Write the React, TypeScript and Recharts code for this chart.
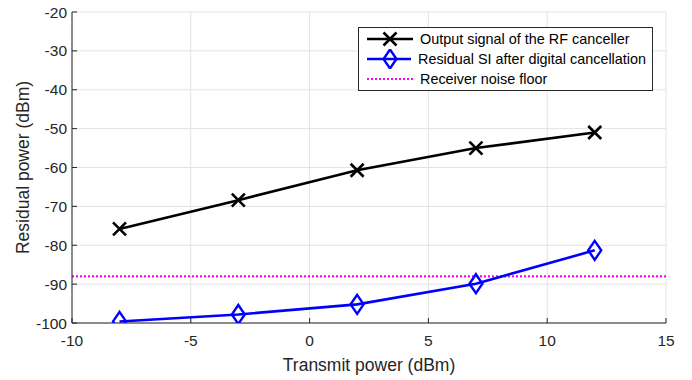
import { LineChart, Line, XAxis, YAxis, CartesianGrid, ReferenceLine } from 'recharts';

const txPower = [-8, -3, 2, 7, 12];
const rfOutput = [-75.8, -68.4, -60.7, -55.0, -51.0];
const digitalResidual = [-99.6, -97.8, -95.2, -89.9, -81.3];
const noiseFloor = -88;
const xTicks = [-10, -5, 0, 5, 10, 15];
const yTicks = [-100, -90, -80, -70, -60, -50, -40, -30, -20];

const data = txPower.map((x, i) => ({ x, rf: rfOutput[i], dig: digitalResidual[i] }));

const FONT = 'Arial, "Liberation Sans", Helvetica, sans-serif';
const tickStyle = { fill: '#262626', fontSize: 15.5, fontFamily: FONT };
const labelStyle = { fill: '#262626', fontSize: 17.5, fontFamily: FONT, textAnchor: 'middle' as const };

const Cross = (props: any) => {
  const { cx, cy } = props;
  if (cx == null || cy == null) return null;
  const s = 6.5;
  return (
    <path d={`M${cx - s},${cy - s}L${cx + s},${cy + s}M${cx - s},${cy + s}L${cx + s},${cy - s}`} stroke="#000" strokeWidth={2.6} fill="none" />
  );
};

const Diamond = (props: any) => {
  const { cx, cy } = props;
  if (cx == null || cy == null) return null;
  const w = 6.5, h = 9.5;
  return (
    <path d={`M${cx},${cy - h}L${cx + w},${cy}L${cx},${cy + h}L${cx - w},${cy}Z`} stroke="#0000ff" strokeWidth={2.4} fill="none" />
  );
};

function LegendBox() {
  const row = { display: 'flex', alignItems: 'center', height: 20, whiteSpace: 'nowrap' } as const;
  return (
    <div style={{ position: 'absolute', left: 358, top: 27, border: '1px solid #262626', background: '#fff', padding: '1px 6px 1px 8px', fontFamily: FONT, fontSize: 14.4, color: '#000', width: 295, boxSizing: 'border-box' }}>
      <div style={row}>
        <svg width={46} height={20} style={{ marginRight: 7 }}>
          <line x1={0} y1={10} x2={46} y2={10} stroke="#000" strokeWidth={2.6} />
          <Cross cx={23} cy={10} />
        </svg>
        Output signal of the RF canceller
      </div>
      <div style={row}>
        <svg width={46} height={20} style={{ marginRight: 7 }}>
          <line x1={0} y1={10} x2={46} y2={10} stroke="#0000ff" strokeWidth={2.6} />
          <Diamond cx={23} cy={10} />
        </svg>
        Residual SI after digital cancellation
      </div>
      <div style={row}>
        <svg width={46} height={20} style={{ marginRight: 7 }}>
          <line x1={0} y1={10} x2={46} y2={10} stroke="#ff00ff" strokeWidth={2.2} strokeDasharray="2 2" />
        </svg>
        Receiver noise floor
      </div>
    </div>
  );
}

export default function App() {
  return (
    <div style={{ position: 'absolute', left: 0, top: 0, width: 692, height: 380, background: '#fff' }}>
      <LineChart width={692} height={380} data={data} margin={{ top: 12, right: 26, bottom: 17, left: 32 }}>
        <CartesianGrid stroke="#e3e3e3" strokeWidth={1} horizontalValues={yTicks} verticalValues={xTicks} />
        <XAxis
          dataKey="x"
          type="number"
          domain={[-10, 15]}
          ticks={xTicks}
          allowDataOverflow
          tick={tickStyle}
          tickSize={-5}
          tickMargin={17}
          tickLine={{ stroke: '#262626' }}
          axisLine={{ stroke: '#262626' }}
          height={40}
          label={{ value: 'Transmit power (dBm)', position: 'insideBottom', offset: -8, style: labelStyle }}
        />
        <XAxis xAxisId="top" dataKey="x" type="number" domain={[-10, 15]} ticks={xTicks} orientation="top" tick={false} tickSize={-5} tickLine={{ stroke: '#262626' }} axisLine={{ stroke: '#262626' }} height={0} />
        <YAxis
          type="number"
          domain={[-100, -20]}
          ticks={yTicks}
          allowDataOverflow
          tick={tickStyle}
          tickSize={-5}
          tickMargin={10}
          tickLine={{ stroke: '#262626' }}
          axisLine={{ stroke: '#262626' }}
          width={40}
          label={{ value: 'Residual power (dBm)', angle: -90, position: 'insideLeft', offset: -9, style: labelStyle }}
        />
        <YAxis yAxisId="right" orientation="right" type="number" domain={[-100, -20]} ticks={yTicks} tick={false} tickSize={-5} tickLine={{ stroke: '#262626' }} axisLine={{ stroke: '#262626' }} width={0} />
        <ReferenceLine y={noiseFloor} stroke="#ff00ff" strokeWidth={2.2} strokeDasharray="2 2" />
        <Line dataKey="rf" stroke="#000" strokeWidth={2.6} dot={<Cross />} isAnimationActive={false} />
        <Line dataKey="dig" stroke="#0000ff" strokeWidth={2.6} dot={<Diamond />} isAnimationActive={false} />
      </LineChart>
      <LegendBox />
    </div>
  );
}
